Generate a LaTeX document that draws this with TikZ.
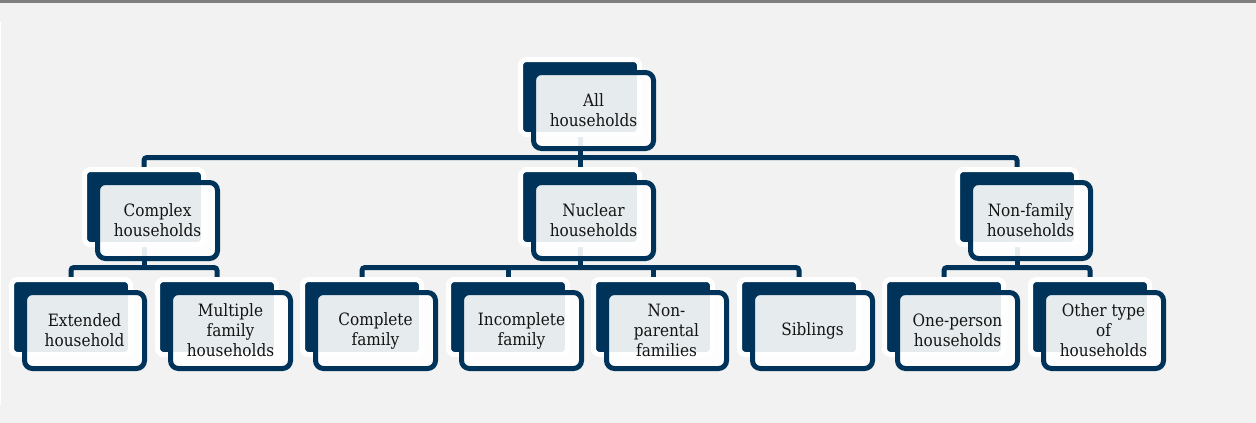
\documentclass[tikz,border=0pt]{standalone}
\usepackage{fontspec}
\setmainfont{DejaVu Serif Condensed}
\definecolor{navy}{HTML}{003359}
\definecolor{bg}{HTML}{F2F2F2}
\definecolor{topline}{HTML}{808080}
\definecolor{txt}{HTML}{141414}
\newcommand\hhnode[4]{%
  \node[backbox] (#1b) at (#2+59.5,#3+37.5) {};
  \node[frontbox] (#1) at (#2+73,#3+51) {#4};}
\begin{document}
\begin{tikzpicture}[x=1pt,y=-1pt,
  backbox/.style={rectangle, rounded corners=6pt, fill=navy, draw=white, line width=5pt,
    minimum width=119pt, minimum height=75pt, inner sep=0pt, outer sep=0pt},
  frontbox/.style={rectangle, rounded corners=8pt, fill=white, fill opacity=0.9, text opacity=1,
    draw=navy, draw opacity=1, line width=5pt, minimum width=120pt, minimum height=76pt,
    inner sep=0pt, outer sep=0pt, align=center, font=\fontsize{17}{20}\selectfont, text=txt},
  conn/.style={draw=navy, line width=5pt, rounded corners=3pt}]
\useasboundingbox (0,0) rectangle (1256,423);
\fill[bg] (0,0) rectangle (1256,423);
\fill[topline] (0,0) rectangle (1256,3);
\fill[white] (0,22) rectangle (1.2,405);
\coordinate (bar1) at (0,157.5);
\coordinate (bar2) at (0,267.5);
% connector end points (back-box top and bottom centres)
\path (520.5+59.5,59.5+75) coordinate (allS);
\path (84.5+59.5,169.5) coordinate (cplxN) (84.5+59.5,169.5+75) coordinate (cplxS);
\path (520.5+59.5,169.5) coordinate (nucN) (520.5+59.5,169.5+75) coordinate (nucS);
\path (957.5+59.5,169.5) coordinate (nfamN) (957.5+59.5,169.5+75) coordinate (nfamS);
\foreach \n/\x in {ext/11.5, mult/157.5, comp/302.5, inc/448.5, npar/593.5, sib/739.5, one/884.5, oth/1030.5}
  {\path (\x+59.5,279.5) coordinate (\n N);}
\draw[conn] (allS) -- (nucN);
\draw[conn] (cplxN) -- (cplxN |- bar1) -- (nfamN |- bar1) -- (nfamN);
\draw[conn] (cplxS) -- (cplxS |- bar2);
\draw[conn] (extN) -- (extN |- bar2) -- (multN |- bar2) -- (multN);
\draw[conn] (nucS) -- (nucS |- bar2);
\draw[conn] (compN) -- (compN |- bar2) -- (sibN |- bar2) -- (sibN);
\draw[conn] (incN) -- (incN |- bar2);
\draw[conn] (nparN) -- (nparN |- bar2);
\draw[conn] (nfamS) -- (nfamS |- bar2);
\draw[conn] (oneN) -- (oneN |- bar2) -- (othN |- bar2) -- (othN);
% boxes
\hhnode{all}{520.5}{59.5}{All\\households}
\hhnode{cplx}{84.5}{169.5}{Complex\\households}
\hhnode{nuc}{520.5}{169.5}{Nuclear\\households}
\hhnode{nfam}{957.5}{169.5}{Non-family\\households}
\hhnode{ext}{11.5}{279.5}{Extended\\household}
\hhnode{mult}{157.5}{279.5}{Multiple\\family\\households}
\hhnode{comp}{302.5}{279.5}{Complete\\family}
\hhnode{inc}{448.5}{279.5}{Incomplete\\family}
\hhnode{npar}{593.5}{279.5}{Non-\\parental\\families}
\hhnode{sib}{739.5}{279.5}{Siblings}
\hhnode{one}{884.5}{279.5}{One-person\\households}
\hhnode{oth}{1030.5}{279.5}{Other type\\of\\households}
\end{tikzpicture}
\end{document}
